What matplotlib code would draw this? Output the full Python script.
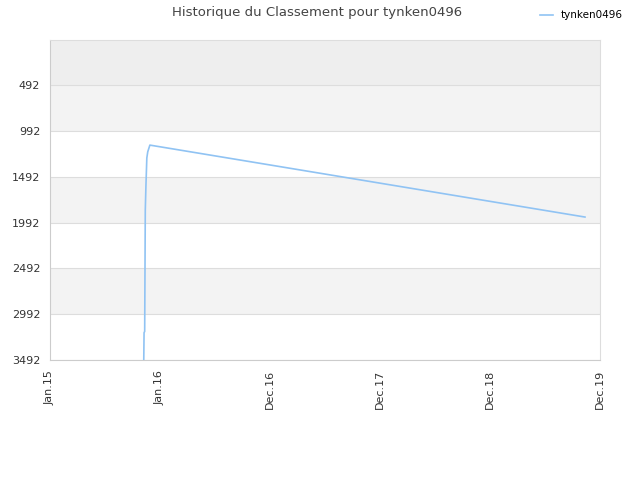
import numpy as np
import pandas as pd
import matplotlib
matplotlib.use("Agg")
import matplotlib.pyplot as plt
import matplotlib.dates as mdates

PLAYER = "tynken0496"
dates = pd.to_datetime([
    "2015-11-03", "2015-11-04", "2015-11-06", "2015-11-08",
    "2015-11-10", "2015-11-13", "2015-11-16", "2015-11-23", "2019-10-13",
])
ranks = [3492, 3194, 3180, 1856, 1601, 1288, 1220, 1147, 1932]

ytick_vals = [492, 992, 1492, 1992, 2492, 2992, 3492]
xtick_labels = ["Jan.15", "Jan.16", "Dec.16", "Dec.17", "Dec.18", "Dec.19"]
x_start, x_end = pd.Timestamp("2015-01-01"), pd.Timestamp("2019-12-01")

fig = plt.figure(figsize=(6.4, 4.8), dpi=100)
ax = fig.add_axes([50 / 640, 120 / 480, 550 / 640, 320 / 480])

y_top, y_bot = 0, 3492
# background bands
ax.axhspan(y_top, ytick_vals[0], color="#eeeeee", zorder=0, lw=0)
for i in range(len(ytick_vals) - 1):
    c = "#f3f3f3" if i % 2 == 0 else "#ffffff"
    ax.axhspan(ytick_vals[i], ytick_vals[i + 1], color=c, zorder=0, lw=0)
for v in ytick_vals:
    ax.axhline(v, color="#dddddd", lw=0.8, zorder=1)

ax.plot(dates, ranks, color="#90c3f3", lw=1.2, label=PLAYER, zorder=3)

ax.set_ylim(y_bot, y_top)
ax.set_yticks(ytick_vals)
ax.set_xlim(x_start, x_end)
lo, hi = mdates.date2num(x_start), mdates.date2num(x_end)
ax.set_xticks(np.linspace(lo, hi, len(xtick_labels)))
ax.set_xticklabels(xtick_labels, rotation=90)
ax.tick_params(length=0, labelsize=8, colors="#333333", pad=7)

for s in ("left", "bottom"):
    ax.spines[s].set_color("#cccccc")
for s in ("top", "right"):
    ax.spines[s].set_color("#dddddd")

fig.text(0.495, 0.988, f"Historique du Classement pour {PLAYER}", ha="center",
         va="top", fontsize=9.5, color="#444444")
fig.legend(loc="upper right", bbox_to_anchor=(0.988, 0.998), frameon=False,
           fontsize=7.5, handlelength=1.2)

fig.savefig("out.png", dpi=100)
